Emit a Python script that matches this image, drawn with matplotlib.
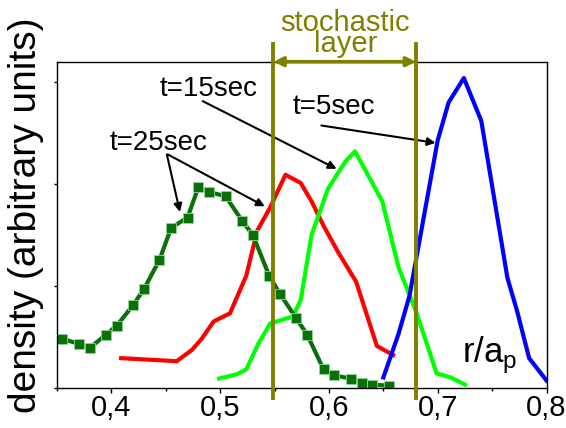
import matplotlib
matplotlib.use("Agg")
import matplotlib.pyplot as plt

plt.rcParams['font.family'] = ['Liberation Sans', 'DejaVu Sans']

# t=25sec (dark green squares)
r25 = [0.355, 0.370, 0.380, 0.395, 0.405, 0.420, 0.430, 0.444, 0.455, 0.470, 0.480, 0.490,
       0.505, 0.520, 0.530, 0.545, 0.555, 0.570, 0.580, 0.595, 0.605, 0.620, 0.630, 0.640, 0.655]
d25 = [0.48, 0.43, 0.39, 0.52, 0.61, 0.81, 0.97, 1.25, 1.57, 1.67, 1.97, 1.92,
       1.88, 1.64, 1.50, 1.10, 0.92, 0.68, 0.52, 0.18, 0.12, 0.09, 0.05, 0.03, 0.02]

# red curve
r_red = [0.409, 0.460, 0.474, 0.483, 0.494, 0.509, 0.524, 0.534, 0.546, 0.560, 0.574, 0.584,
         0.595, 0.609, 0.625, 0.644, 0.659]
d_red = [0.29, 0.26, 0.37, 0.48, 0.65, 0.73, 1.10, 1.54, 1.77, 2.09, 2.01, 1.83,
         1.59, 1.32, 1.04, 0.41, 0.32]

# light green curve
r_lg = [0.499, 0.515, 0.524, 0.535, 0.546, 0.567, 0.574, 0.584, 0.599, 0.615, 0.624,
        0.649, 0.664, 0.680, 0.699, 0.712, 0.725]
d_lg = [0.09, 0.13, 0.18, 0.43, 0.63, 0.70, 0.86, 1.50, 1.95, 2.22, 2.32,
        1.83, 1.18, 0.75, 0.14, 0.10, 0.03]

# blue curve
r_bl = [0.650, 0.664, 0.674, 0.700, 0.710, 0.724, 0.740, 0.750, 0.764, 0.773, 0.784, 0.800]
d_bl = [0.10, 0.53, 0.90, 2.43, 2.80, 3.04, 2.62, 1.98, 1.08, 0.75, 0.29, 0.07]

layer_edges = [0.549, 0.68]

xtick_vals = [0.4, 0.5, 0.6, 0.7, 0.8]
xtick_labels = ['0,4', '0,5', '0,6', '0,7', '0,8']

fig = plt.figure(figsize=(5.66, 4.28), dpi=100)
ax = fig.add_axes([0.1007, 0.0942, 0.8649, 0.7616])

ax.plot(r_red, d_red, color='#ff0000', lw=3)
ax.plot(r_lg, d_lg, color='#00ff00', lw=3)
ax.plot(r_bl, d_bl, color='#0000ff', lw=3)
ax.plot(r25, d25, color='#0a700a', lw=3, marker='s', markersize=7,
        markerfacecolor='#0a700a', markeredgecolor='#8fd88f', markeredgewidth=0.6)

olive = '#808000'
for xe in layer_edges:
    ax.plot([xe, xe], [-0.105, 3.37], color=olive, lw=2.8, clip_on=False, zorder=5)
ax.annotate('', xy=(layer_edges[1], 3.2), xytext=(layer_edges[0], 3.2),
            arrowprops=dict(arrowstyle='<|-|>', color=olive, lw=2.5, mutation_scale=14,
                            shrinkA=0, shrinkB=0), annotation_clip=False, zorder=6)
ax.text(0.615, 3.713, 'stochastic\nlayer', color=olive, fontsize=21, ha='center',
        va='top', multialignment='center', linespacing=0.65, clip_on=False)

ax.text(0.444, 2.862, 't=15sec', fontsize=20, ha='left', va='baseline')
ax.text(0.567, 2.682, 't=5sec', fontsize=20, ha='left', va='baseline')
ax.text(0.398, 2.331, 't=25sec', fontsize=20, ha='left', va='baseline')

ap = dict(arrowstyle='-|>', color='k', lw=1.5, mutation_scale=12, shrinkA=0, shrinkB=0)
ax.annotate('', xy=(0.607, 2.148), xytext=(0.484, 2.813), arrowprops=ap)
ax.annotate('', xy=(0.698, 2.403), xytext=(0.593, 2.574), arrowprops=ap)
ax.annotate('', xy=(0.463, 1.725), xytext=(0.451, 2.289), arrowprops=ap)
ax.annotate('', xy=(0.541, 1.780), xytext=(0.452, 2.289), arrowprops=ap)

ax.text(0.722, 0.24, r'r/a$_\mathregular{p}$', fontsize=25, ha='left', va='baseline')

ax.set_xlim(0.35, 0.8)
ax.set_ylim(0, 3.2)
ax.set_xticks(xtick_vals)
ax.set_xticklabels(xtick_labels)
ax.set_xticks([0.35, 0.45, 0.55, 0.65, 0.75], minor=True)
ax.set_yticks([0, 1, 2, 3])
ax.set_yticklabels([])
ax.tick_params(axis='x', which='major', length=3.5, width=1, labelsize=21, pad=1)
ax.tick_params(axis='x', which='minor', length=2.2, width=1)
ax.tick_params(axis='y', which='major', length=2.5, width=1)
for s in ax.spines.values():
    s.set_linewidth(1)
ax.set_ylabel('density (arbitrary units)', fontsize=28)
ax.yaxis.set_label_coords(-0.027, 0.53)

fig.savefig('out.png', dpi=100)
